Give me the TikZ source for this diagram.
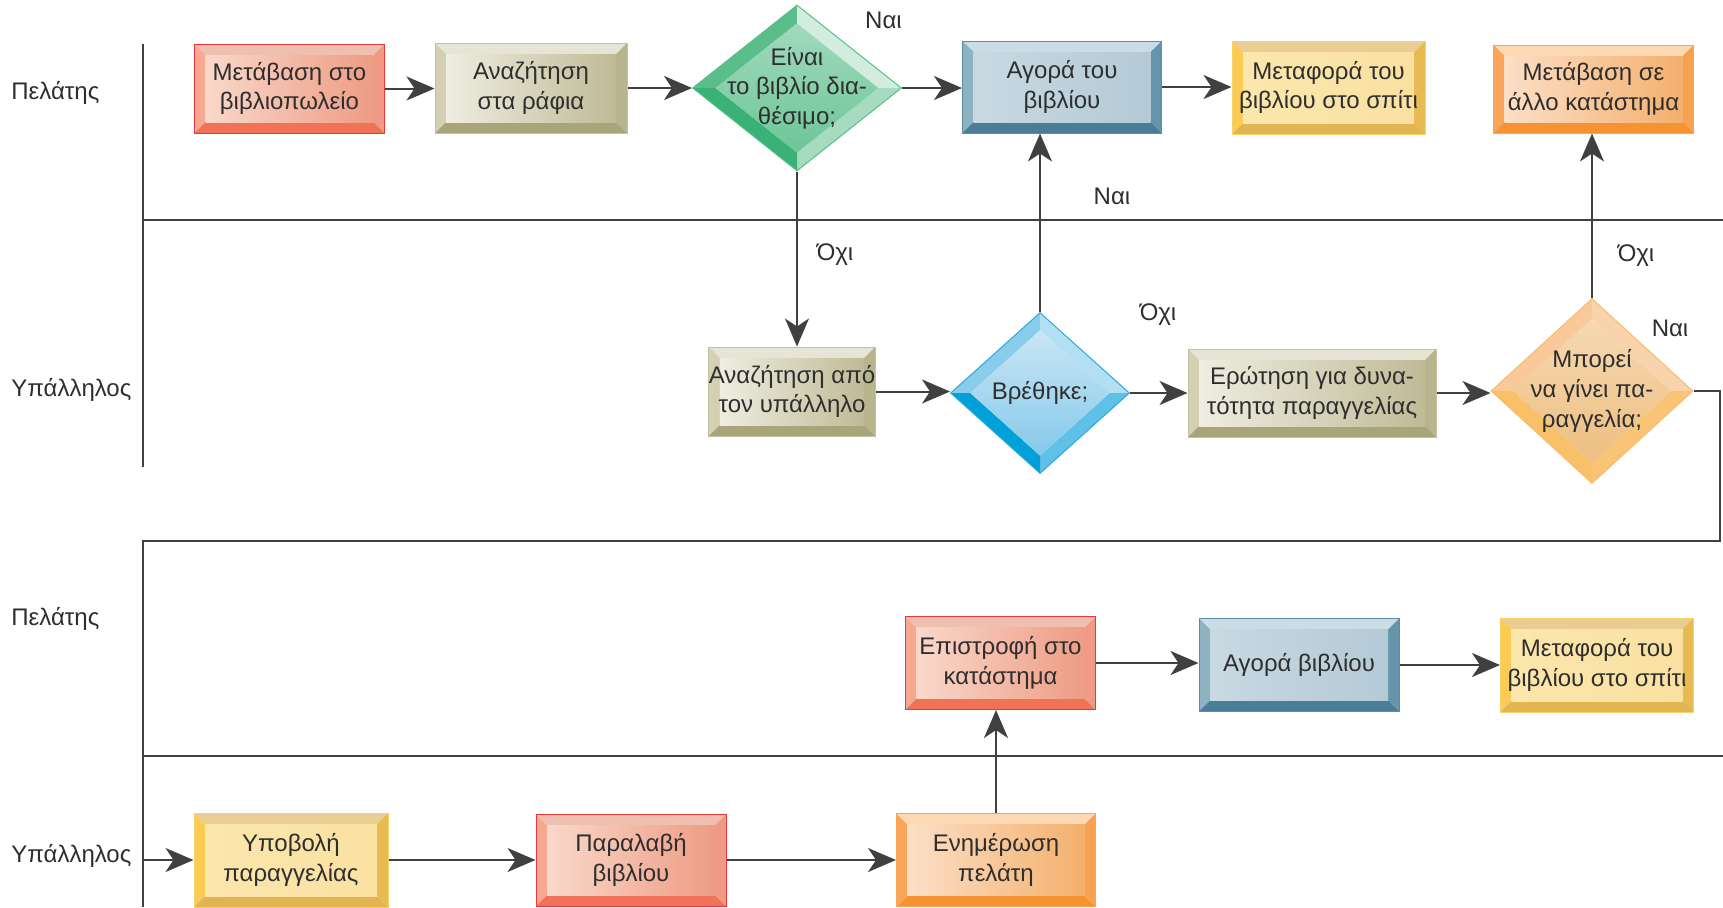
\documentclass[tikz,border=0pt]{standalone}
\usepackage{fontspec}
\setmainfont{Liberation Sans}
\usetikzlibrary{calc,shapes.geometric,arrows.meta}
\definecolor{txt}{HTML}{2E2E2E}
\definecolor{lc}{HTML}{404040}
% red
\definecolor{rdB}{HTML}{E8363C}\definecolor{rdT}{HTML}{EFC0B0}\definecolor{rdL}{HTML}{F7A890}
\definecolor{rdR}{HTML}{F09A85}\definecolor{rdD}{HTML}{F07358}\definecolor{rdF}{HTML}{F9D8CA}\definecolor{rdG}{HTML}{EE9C84}
% olive
\definecolor{olB}{HTML}{C5C19E}\definecolor{olT}{HTML}{E6E4D4}\definecolor{olL}{HTML}{D4D0B4}
\definecolor{olR}{HTML}{B8B48E}\definecolor{olD}{HTML}{A9A57A}\definecolor{olF}{HTML}{EEEDE0}\definecolor{olG}{HTML}{BFBB97}
% blue
\definecolor{blB}{HTML}{5B8DA5}\definecolor{blT}{HTML}{CADDE6}\definecolor{blL}{HTML}{8DB2C2}
\definecolor{blR}{HTML}{6595AB}\definecolor{blD}{HTML}{4A7D96}\definecolor{blF}{HTML}{C8D9E2}\definecolor{blG}{HTML}{B4CAD6}
% yellow
\definecolor{ylB}{HTML}{F9D36A}\definecolor{ylT}{HTML}{E9CD92}\definecolor{ylL}{HTML}{FCCB55}
\definecolor{ylR}{HTML}{E8BA52}\definecolor{ylD}{HTML}{E2B552}\definecolor{ylF}{HTML}{FBE6AC}\definecolor{ylG}{HTML}{FAE1A2}
% orange
\definecolor{orB}{HTML}{F9A658}\definecolor{orT}{HTML}{FDD9B4}\definecolor{orL}{HTML}{F9A65C}
\definecolor{orR}{HTML}{F8A251}\definecolor{orD}{HTML}{F79233}\definecolor{orF}{HTML}{FCDFC6}\definecolor{orG}{HTML}{F3B06E}
% green diamond
\definecolor{gnB}{HTML}{5ABE8A}\definecolor{gnTL}{HTML}{5ABE8A}\definecolor{gnTR}{HTML}{D2EDDE}
\definecolor{gnBR}{HTML}{A6DBC0}\definecolor{gnBL}{HTML}{3AB176}\definecolor{gnF}{HTML}{A2D9BD}\definecolor{gnG}{HTML}{6CC697}
% blue diamond
\definecolor{cyB}{HTML}{2AA9DF}\definecolor{cyTL}{HTML}{8ACDEB}\definecolor{cyTR}{HTML}{B3DFF2}
\definecolor{cyBR}{HTML}{5FC1E8}\definecolor{cyBL}{HTML}{00A0D9}\definecolor{cyF}{HTML}{C9E6F5}\definecolor{cyG}{HTML}{86C9EA}
% orange diamond
\definecolor{odB}{HTML}{F9BB6D}\definecolor{odTL}{HTML}{F9C99A}\definecolor{odTR}{HTML}{F9D3AC}
\definecolor{odBR}{HTML}{F9C476}\definecolor{odBL}{HTML}{F9C06A}\definecolor{odF}{HTML}{F6D9B2}\definecolor{odG}{HTML}{EDBE80}
\tikzset{
  bbox/.style n args={7}{rectangle, draw=#1, line width=0.5pt, inner sep=0pt, align=center,
    path picture={
      \coordinate (bNW) at (path picture bounding box.north west);
      \coordinate (bNE) at (path picture bounding box.north east);
      \coordinate (bSE) at (path picture bounding box.south east);
      \coordinate (bSW) at (path picture bounding box.south west);
      \coordinate (iNW) at ([shift={(5.5pt,-5.5pt)}]bNW);
      \coordinate (iNE) at ([shift={(-5.5pt,-5.5pt)}]bNE);
      \coordinate (iSE) at ([shift={(-5.5pt,5.5pt)}]bSE);
      \coordinate (iSW) at ([shift={(5.5pt,5.5pt)}]bSW);
      \fill[#2] (bNW)--(bNE)--(iNE)--(iNW)--cycle;
      \fill[#3] (bNW)--(iNW)--(iSW)--(bSW)--cycle;
      \fill[#4] (bNE)--(bSE)--(iSE)--(iNE)--cycle;
      \fill[#5] (bSW)--(iSW)--(iSE)--(bSE)--cycle;
      \shade[left color=#6, right color=#7] (iNW) rectangle (iSE);
    }},
  dbox/.style n args={7}{shape=diamond, draw=#1, line width=0.5pt, inner sep=-30pt, align=center,
    path picture={
      \coordinate (pC) at (path picture bounding box.center);
      \coordinate (pN) at (path picture bounding box.north);
      \coordinate (pE) at (path picture bounding box.east);
      \coordinate (pS) at (path picture bounding box.south);
      \coordinate (pW) at (path picture bounding box.west);
      \coordinate (qN) at ($(pC)!0.78!(pN)$);
      \coordinate (qE) at ($(pC)!0.78!(pE)$);
      \coordinate (qS) at ($(pC)!0.78!(pS)$);
      \coordinate (qW) at ($(pC)!0.78!(pW)$);
      \fill[#2] (pW)--(pN)--(qN)--(qW)--cycle;
      \fill[#3] (pN)--(pE)--(qE)--(qN)--cycle;
      \fill[#4] (pE)--(pS)--(qS)--(qE)--cycle;
      \fill[#5] (pS)--(pW)--(qW)--(qS)--cycle;
      \shade[top color=#6, bottom color=#7] (qN)--(qE)--(qS)--(qW)--cycle;
    }},
  redbox/.style={bbox={rdB}{rdT}{rdL}{rdR}{rdD}{rdF}{rdG}},
  olbox/.style={bbox={olB}{olT}{olL}{olR}{olD}{olF}{olG}},
  blbox/.style={bbox={blB}{blT}{blL}{blR}{blD}{blF}{blG}},
  ylbox/.style={bbox={ylB}{ylT}{ylL}{ylR}{ylD}{ylF}{ylG}},
  orbox/.style={bbox={orB}{orT}{orL}{orR}{orD}{orF}{orG}},
  gndia/.style={dbox={gnB}{gnTL}{gnTR}{gnBR}{gnBL}{gnF}{gnG}},
  cydia/.style={dbox={cyB}{cyTL}{cyTR}{cyBR}{cyBL}{cyF}{cyG}},
  oddia/.style={dbox={odB}{odTL}{odTR}{odBR}{odBL}{odF}{odG}},
  conn/.style={draw=lc, line width=1pt, -{Stealth[length=14pt,width=12pt,inset=4pt]}},
  lane/.style={draw=lc, line width=0.75pt},
  lbl/.style={inner sep=0pt},
  sz/.style 2 args={minimum width=#1pt, minimum height=#2pt},
}
\begin{document}
\begin{tikzpicture}[x=0.5pt,y=-0.5pt,
  every node/.append style={font=\fontsize{12}{14.8}\selectfont, text=txt}]
\path[use as bounding box] (0,0) rectangle (1723,907);
% lanes
\draw[lane] (143,44) -- (143,467);
\draw[lane] (143,220) -- (1723,220);
\draw[lane] (143,756) -- (1723,756);
\draw[lane] (143,541) -- (143,907);
\node[lbl, anchor=west] (L1) at (11,93) {Πελάτης};
\node[lbl, anchor=west] (L2) at (11,390) {Υπάλληλος};
\node[lbl, anchor=west] (L3) at (11,619) {Πελάτης};
\node[lbl, anchor=west] (L4) at (11,856) {Υπάλληλος};
% row 1
\node[redbox, sz={95}{44.5}] (n1) at (289.5,88.5) {Μετάβαση στο\\βιβλιοπωλείο};
\node[olbox, sz={96}{45}] (n2) at (531,88) {Αναζήτηση\\στα ράφια};
\node[gndia, sz={104.5}{83}] (n3) at (797,88) {Είναι\\το βιβλίο δια-\\θέσιμο;};
\node[blbox, sz={99.5}{46}] (n4) at (1062,87) {Αγορά του\\βιβλίου};
\node[ylbox, sz={96.5}{46.5}] (n5) at (1328.5,87.5) {Μεταφορά του\\βιβλίου στο σπίτι};
\node[orbox, sz={100}{44}] (n6) at (1593.5,89) {Μετάβαση σε\\άλλο κατάστημα};
% row 2
\node[olbox, sz={80.5}{44.5}] (n7) at (792,391.5) {Αναζήτηση από\\τον υπάλληλο};
\node[cydia, sz={89.5}{80.5}] (n8) at (1040,393) {Βρέθηκε;};
\node[olbox, sz={124}{44}] (n9) at (1312,393) {Ερώτηση για δυνα-\\τότητα παραγγελίας};
\node[oddia, sz={101}{92.5}] (n10) at (1592,391) {Μπορεί\\να γίνει πα-\\ραγγελία;};
% row 3
\node[redbox, sz={95}{46.5}] (n11) at (1000.5,663) {Επιστροφή στο\\κατάστημα};
\node[blbox, sz={100}{46.5}] (n12) at (1299,665) {Αγορά βιβλίου};
\node[ylbox, sz={96.5}{47}] (n13) at (1597,665) {Μεταφορά του\\βιβλίου στο σπίτι};
% row 4
\node[ylbox, sz={97}{47}] (n14) at (291,860) {Υποβολή\\παραγγελίας};
\node[redbox, sz={95}{46}] (n15) at (631,860) {Παραλαβή\\βιβλίου};
\node[orbox, sz={99.5}{46.5}] (n16) at (996,860) {Ενημέρωση\\πελάτη};
% connectors
\draw[conn] (n1.east) -- (n1.east -| n2.west);
\draw[conn] (n2.east) -- (n2.east -| n3.west);
\draw[conn] (n3.east) -- (n3.east -| n4.west);
\draw[conn] (n4.east) -- (n4.east -| n5.west);
\draw[conn] (n3.south) -- (n3.south |- n7.north);
\draw[conn] (n7.east) -- (n7.east -| n8.west);
\draw[conn] (n8.north) -- (n8.north |- n4.south);
\draw[conn] (n8.east) -- (n8.east -| n9.west);
\draw[conn] (n9.east) -- (n9.east -| n10.west);
\draw[conn] (n10.north) -- (n10.north |- n6.south);
\coordinate (r1) at (1720,541);
\coordinate (l1) at (143,541);
\draw[conn] (n10.east) -| (r1) -- (l1) |- (n14.west);
\draw[conn] (n14.east) -- (n14.east -| n15.west);
\draw[conn] (n15.east) -- (n15.east -| n16.west);
\draw[conn] (n16.north) -- (n16.north |- n11.south);
\draw[conn] (n11.east) -- (n11.east -| n12.west);
\draw[conn] (n12.east) -- (n12.east -| n13.west);
% labels
\node[lbl] (t1) at (883.5,20) {Ναι};
\node[lbl] (t2) at (835,255) {Όχι};
\node[lbl] (t3) at (1112,196) {Ναι};
\node[lbl] (t4) at (1158,315) {Όχι};
\node[lbl] (t5) at (1636,256) {Όχι};
\node[lbl] (t6) at (1670,328) {Ναι};
\end{tikzpicture}
\end{document}
